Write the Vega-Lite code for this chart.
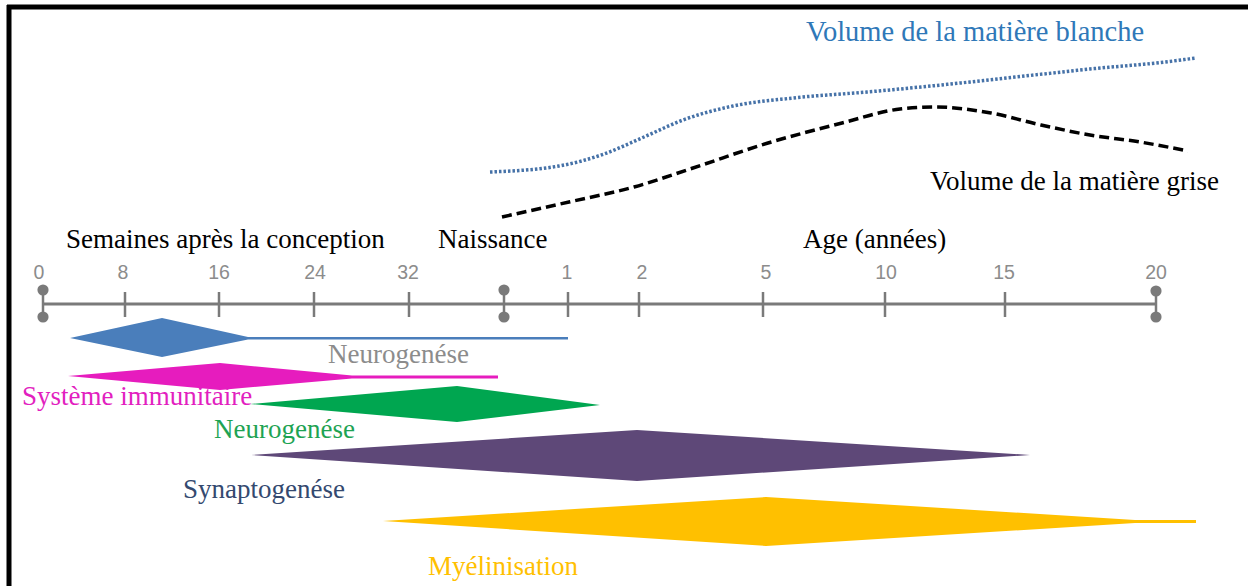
{
  "$schema": "https://vega.github.io/schema/vega-lite/v6.json",
  "width": 1248,
  "height": 586,
  "autosize": {"type": "none"},
  "padding": 0,
  "background": "white",
  "config": {"view": {"stroke": null}},
  "encoding": {
    "x": {"field": "t", "type": "quantitative", "scale": {"domain": [0, 1248], "nice": false, "zero": false}, "axis": null},
    "y": {"field": "v", "type": "quantitative", "scale": {"domain": [0, 586], "nice": false, "zero": false, "reverse": true}, "axis": null}
  },
  "layer": [
    {
      "data": {"values": [
        {"part": "top", "t": 7, "v": 7, "t2": 1248, "v2": 7},
        {"part": "left", "t": 9, "v": 5, "t2": 9, "v2": 586}
      ]},
      "mark": {"type": "rule", "color": "black", "strokeWidth": 5},
      "encoding": {"x2": {"field": "t2"}, "y2": {"field": "v2"}}
    },
    {
      "data": {"values": [
        {"process": "Neurogenèse (précoce)", "t": 70, "v": 338, "v2": 338},
        {"process": "Neurogenèse (précoce)", "t": 162, "v": 318, "v2": 357},
        {"process": "Neurogenèse (précoce)", "t": 248, "v": 337, "v2": 339.5},
        {"process": "Neurogenèse (précoce)", "t": 568, "v": 337, "v2": 339.5},
        {"process": "Système immunitaire", "t": 68, "v": 376, "v2": 376},
        {"process": "Système immunitaire", "t": 220, "v": 363, "v2": 390},
        {"process": "Système immunitaire", "t": 352, "v": 375.5, "v2": 378.5},
        {"process": "Système immunitaire", "t": 498, "v": 375.5, "v2": 378.5},
        {"process": "Neurogenèse", "t": 250, "v": 404, "v2": 404},
        {"process": "Neurogenèse", "t": 457, "v": 386, "v2": 422},
        {"process": "Neurogenèse", "t": 600, "v": 405, "v2": 405},
        {"process": "Synaptogenèse", "t": 251, "v": 455, "v2": 455},
        {"process": "Synaptogenèse", "t": 637, "v": 430, "v2": 481},
        {"process": "Synaptogenèse", "t": 1030, "v": 455, "v2": 455},
        {"process": "Myélinisation", "t": 383, "v": 521, "v2": 521},
        {"process": "Myélinisation", "t": 766, "v": 497, "v2": 546},
        {"process": "Myélinisation", "t": 1135, "v": 520, "v2": 523},
        {"process": "Myélinisation", "t": 1196, "v": 520, "v2": 523}
      ]},
      "mark": {"type": "area", "interpolate": "linear", "opacity": 1},
      "encoding": {
        "y2": {"field": "v2"},
        "color": {"field": "process", "type": "nominal", "legend": null,
          "scale": {"domain": ["Neurogenèse (précoce)", "Système immunitaire", "Neurogenèse", "Synaptogenèse", "Myélinisation"],
                    "range": ["#4a7ebb", "#e61cbe", "#00a650", "#5e4878", "#ffc000"]}}
      }
    },
    {
      "data": {"values": [
        {"t": 43, "v": 304, "t2": 1156, "v2": 304}
      ]},
      "mark": {"type": "rule", "color": "#7a7a7a", "strokeWidth": 3},
      "encoding": {"x2": {"field": "t2"}, "y2": {"field": "v2"}}
    },
    {
      "data": {"values": [
        {"tick": "8", "t": 125, "v": 292, "t2": 125, "v2": 317},
        {"tick": "16", "t": 219, "v": 292, "t2": 219, "v2": 317},
        {"tick": "24", "t": 314, "v": 292, "t2": 314, "v2": 317},
        {"tick": "32", "t": 409, "v": 292, "t2": 409, "v2": 317},
        {"tick": "1", "t": 568, "v": 292, "t2": 568, "v2": 317},
        {"tick": "2", "t": 639, "v": 292, "t2": 639, "v2": 317},
        {"tick": "5", "t": 763, "v": 292, "t2": 763, "v2": 317},
        {"tick": "10", "t": 885, "v": 292, "t2": 885, "v2": 317},
        {"tick": "15", "t": 1005, "v": 292, "t2": 1005, "v2": 317},
        {"tick": "0 pin", "t": 43, "v": 290, "t2": 43, "v2": 317},
        {"tick": "naissance pin", "t": 504, "v": 290, "t2": 504, "v2": 317},
        {"tick": "20 pin", "t": 1156, "v": 290, "t2": 1156, "v2": 317}
      ]},
      "mark": {"type": "rule", "color": "#7a7a7a", "strokeWidth": 2.5},
      "encoding": {"x2": {"field": "t2"}, "y2": {"field": "v2"}}
    },
    {
      "data": {"values": [
        {"t": 43, "v": 290}, {"t": 43, "v": 317},
        {"t": 504, "v": 290}, {"t": 504, "v": 317},
        {"t": 1156, "v": 291}, {"t": 1156, "v": 317}
      ]},
      "mark": {"type": "circle", "color": "#7a7a7a", "size": 125, "opacity": 1}
    },
    {
      "data": {"values": [
        {"label": "0", "t": 39, "v": 273},
        {"label": "8", "t": 123, "v": 273},
        {"label": "16", "t": 219, "v": 273},
        {"label": "24", "t": 315, "v": 273},
        {"label": "32", "t": 408, "v": 273},
        {"label": "1", "t": 567, "v": 273},
        {"label": "2", "t": 642, "v": 273},
        {"label": "5", "t": 766, "v": 273},
        {"label": "10", "t": 886, "v": 273},
        {"label": "15", "t": 1004, "v": 273},
        {"label": "20", "t": 1156, "v": 273}
      ]},
      "mark": {"type": "text", "font": "Liberation Sans", "fontSize": 19.5, "color": "#8c8c8c", "align": "center", "baseline": "middle"},
      "encoding": {"text": {"field": "label"}}
    },
    {
      "data": {"values": [
        {"age": 1, "t": 490, "v": 172}, {"age": 2, "t": 559, "v": 166}, {"age": 3, "t": 604, "v": 154},
        {"age": 4, "t": 644, "v": 137}, {"age": 5, "t": 683, "v": 120}, {"age": 6, "t": 733, "v": 106},
        {"age": 7, "t": 793, "v": 98}, {"age": 8, "t": 867, "v": 92}, {"age": 9, "t": 941, "v": 85},
        {"age": 10, "t": 1016, "v": 77}, {"age": 11, "t": 1090, "v": 69}, {"age": 12, "t": 1165, "v": 62},
        {"age": 13, "t": 1196, "v": 58}
      ]},
      "mark": {"type": "line", "color": "#4672a8", "strokeWidth": 3.5, "strokeDash": [2.5, 2], "interpolate": "monotone"}
    },
    {
      "data": {"values": [
        {"age": 1, "t": 502, "v": 217}, {"age": 2, "t": 569, "v": 202}, {"age": 3, "t": 634, "v": 187},
        {"age": 4, "t": 693, "v": 168}, {"age": 5, "t": 768, "v": 143}, {"age": 6, "t": 842, "v": 123},
        {"age": 7, "t": 900, "v": 109}, {"age": 8, "t": 935, "v": 107}, {"age": 9, "t": 991, "v": 113},
        {"age": 10, "t": 1041, "v": 125}, {"age": 11, "t": 1090, "v": 135}, {"age": 12, "t": 1140, "v": 142},
        {"age": 13, "t": 1188, "v": 151}
      ]},
      "mark": {"type": "line", "color": "black", "strokeWidth": 3.5, "strokeDash": [10, 5], "interpolate": "monotone"}
    },
    {
      "data": {"values": [
        {"label": "Semaines après la conception", "t": 66, "v": 240},
        {"label": "Naissance", "t": 438, "v": 240},
        {"label": "Age (années)", "t": 803, "v": 240},
        {"label": "Volume de la matière grise", "t": 930, "v": 182}
      ]},
      "mark": {"type": "text", "font": "Liberation Serif", "fontSize": 27, "color": "black", "align": "left", "baseline": "middle"},
      "encoding": {"text": {"field": "label"}}
    },
    {
      "data": {"values": [
        {"label": "Volume de la matière blanche", "t": 806, "v": 32}
      ]},
      "mark": {"type": "text", "font": "Liberation Serif", "fontSize": 28.5, "color": "#2f78b8", "align": "left", "baseline": "middle"},
      "encoding": {"text": {"field": "label"}}
    },
    {
      "data": {"values": [
        {"key": "neuro1", "label": "Neurogenése", "t": 328, "v": 355},
        {"key": "immun", "label": "Système immunitaire", "t": 22, "v": 397},
        {"key": "neuro2", "label": "Neurogenése", "t": 214, "v": 430},
        {"key": "synap", "label": "Synaptogenése", "t": 183, "v": 490},
        {"key": "myel", "label": "Myélinisation", "t": 428, "v": 567}
      ]},
      "mark": {"type": "text", "font": "Liberation Serif", "fontSize": 27, "align": "left", "baseline": "middle"},
      "encoding": {
        "text": {"field": "label"},
        "color": {"field": "key", "type": "nominal", "legend": null,
          "scale": {"domain": ["neuro1", "immun", "neuro2", "synap", "myel"],
                    "range": ["#8c8c8c", "#e21fbf", "#1ea353", "#34496f", "#ffc000"]}}
      }
    }
  ],
  "resolve": {"scale": {"color": "independent"}}
}
